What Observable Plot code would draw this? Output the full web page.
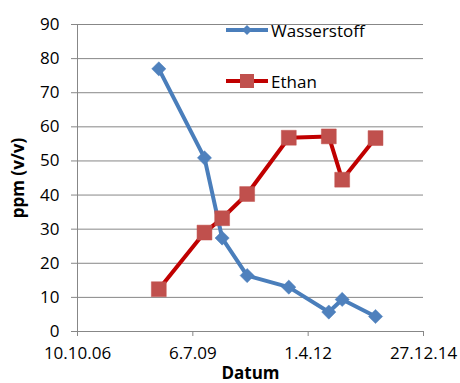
<!DOCTYPE html>
<html>
<head>
<meta charset="utf-8">
<script src="https://cdn.jsdelivr.net/npm/d3@7"></script>
<script src="https://cdn.jsdelivr.net/npm/@observablehq/plot@0.6"></script>
<style>
  html, body { margin: 0; padding: 0; background: white; }
  #wrap { position: relative; width: 460px; height: 383px; font-family: "Open Sans", sans-serif; }
  .leg { position: absolute; display: flex; align-items: center; font-size: 17px; color: #000; }
  .leg svg { display: block; margin-right: 3px; }
</style>
</head>
<body>
<div id="wrap"></div>
<script>
// ---- data ----
const dates = ["2008-09-14","2009-10-15","2010-03-17","2010-10-20","2011-10-16","2012-09-27","2013-01-21","2013-11-06"];
const wasserstoff = [77.0, 50.9, 27.4, 16.4, 13.0, 5.7, 9.4, 4.4];
const ethan = [12.4, 29.0, 33.2, 40.3, 56.8, 57.2, 44.5, 56.7];
const xTickDates = ["2006-10-10","2009-07-06","2012-04-01","2014-12-27"];
const xTickLabels = ["10.10.06","6.7.09","1.4.12","27.12.14"];
const yTicks = [0,10,20,30,40,50,60,70,80,90];
const seriesNames = ["Wasserstoff","Ethan"];
const yLabel = "ppm (v/v)";
const xLabel = "Datum";

const parse = d3.utcParse("%Y-%m-%d");
const rows = dates.map((d, i) => ({date: parse(d), w: wasserstoff[i], e: ethan[i]}));
const xt = xTickDates.map(parse);
const labelMap = new Map(xt.map((d, i) => [+d, xTickLabels[i]]));

const blueLine = "#4A7EBB", blueFill = "#4F81BD";
const redLine = "#C00000", redFill = "#C0504D";
const grid = "#878787";

const chart = Plot.plot({
  width: 460, height: 383,
  marginLeft: 77, marginRight: 37, marginTop: 24, marginBottom: 52,
  style: {fontFamily: "Open Sans", fontSize: "17px", color: "#000", background: "white", overflow: "visible"},
  x: {type: "utc", domain: [xt[0], xt[xt.length - 1]]},
  y: {domain: [0, 90]},
  marks: [
    Plot.gridY(yTicks, {stroke: grid, strokeOpacity: 1, strokeWidth: 1}),
    Plot.axisY(yTicks, {tickSize: 6, tickPadding: 12, stroke: grid, strokeOpacity: 1, label: null, fill: "#000"}),
    Plot.ruleX([xt[0]], {stroke: grid, strokeWidth: 1}),
    Plot.ruleY([0], {stroke: grid, strokeWidth: 1}),
    Plot.axisX(xt, {tickSize: 5, tickPadding: 10, stroke: grid, strokeOpacity: 1, label: null, fill: "#000",
      tickFormat: d => labelMap.get(+d)}),
    Plot.line(rows, {x: "date", y: "w", stroke: blueLine, strokeWidth: 4, strokeLinejoin: "round"}),
    Plot.dot(rows, {x: "date", y: "w", symbol: "diamond2", r: 6.4, fill: blueFill, stroke: blueFill, strokeWidth: 0.5}),
    Plot.line(rows, {x: "date", y: "e", stroke: redLine, strokeWidth: 4, strokeLinejoin: "round"}),
    Plot.dot(rows, {x: "date", y: "e", symbol: "square", r: 8.4, fill: redFill, stroke: redFill, strokeWidth: 0.5}),
    Plot.text([yLabel], {frameAnchor: "left", rotate: -90, dx: -59, fontWeight: "bold", fontSize: 17, textAnchor: "middle", lineAnchor: "middle"}),
    Plot.text([xLabel], {frameAnchor: "bottom", dy: 42, fontWeight: "bold", fontSize: 17, textAnchor: "middle", lineAnchor: "middle"})
  ]
});

const wrap = document.getElementById("wrap");
wrap.appendChild(chart);

function legendItem(name, top, kind, lineColor, fillColor) {
  const div = document.createElement("div");
  div.className = "leg";
  div.style.left = "226px";
  div.style.top = (top - 13) + "px";
  div.style.height = "24px";
  const marker = kind === "diamond"
    ? `<polygon points="21,7 26,12 21,17 16,12" fill="${fillColor}"/>`
    : `<rect x="14" y="5" width="14" height="14" fill="${fillColor}"/>`;
  div.innerHTML = `<svg width="42" height="24"><line x1="0" x2="42" y1="12" y2="12" stroke="${lineColor}" stroke-width="4"/>${marker}</svg><span>${name}</span>`;
  wrap.appendChild(div);
}
legendItem(seriesNames[0], 31, "diamond", blueLine, blueFill);
legendItem(seriesNames[1], 82, "square", redLine, redFill);
</script>
</body>
</html>
